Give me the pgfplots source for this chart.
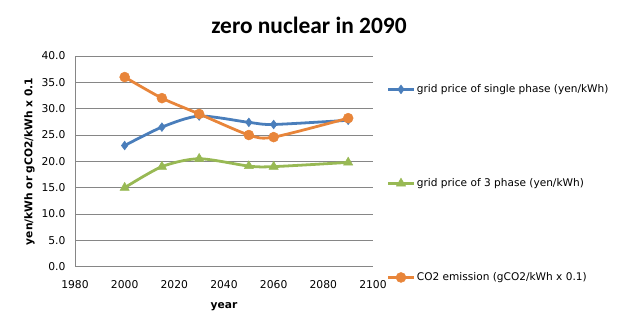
\documentclass[border=0pt]{standalone}
\usepackage{pgfplots}
\pgfplotsset{compat=1.18}
\usepackage{fontspec}
\setmainfont{DejaVu Sans}
\newfontfamily\titlefont{Carlito}
\definecolor{sblue}{HTML}{4A7EBB}
\definecolor{sgreen}{HTML}{98B954}
\definecolor{sorange}{HTML}{E8853A}
\definecolor{gridc}{HTML}{868686}
\begin{document}
\begin{tikzpicture}
\useasboundingbox (0,0) rectangle (618bp,328bp);
\node[font=\titlefont\bfseries\fontsize{23.5}{26}\selectfont] at (309bp,303bp) {zero nuclear in 2090};
\begin{axis}[
  scale only axis,
  width=298bp, height=210.7bp,
  at={(75bp,61.3bp)}, anchor=south west,
  xmin=1980, xmax=2100, ymin=0, ymax=40,
  xtick={1980,2000,...,2100}, ytick={0,5,...,40},
  axis x line*=bottom, axis y line*=left,
  x axis line style={draw=none},
  y axis line style={draw=gridc, -},
  tick style={draw=none},
  ymajorgrids, grid style={gridc, line width=0.7pt},
  /pgf/number format/.cd, fixed, fixed zerofill, precision=1, 1000 sep={}, assume math mode=true,
  /pgfplots/.cd,
  xticklabel={\pgfmathprintnumber[fixed,precision=0,1000 sep={}]{\tick}},
  tick label style={font=\fontsize{10.8}{12}\selectfont},
  xticklabel style={yshift=-10bp},
  yticklabel style={xshift=-6bp},
  xlabel={\bfseries year}, ylabel={\bfseries yen/kWh or gCO2/kWh x 0.1},
  label style={font=\fontsize{10.7}{12}\selectfont},
  xlabel style={yshift=-7bp},
  ylabel style={yshift=0bp},
  legend style={draw=none, fill=none, at={(1.045,0.872)}, anchor=north west, font=\fontsize{10.6}{12}\selectfont, row sep=81.5bp, inner sep=0pt,
    nodes={inner sep=1.5bp}, /tikz/every odd column/.append style={column sep=0bp}},
  legend cell align=left,
  legend image code/.code={\draw[#1, line width=2.8pt, mark repeat=2, mark phase=2] plot coordinates {(0bp,0bp) (13bp,0bp) (26bp,0bp)};},
]
\addplot[sblue, line width=2.8pt, smooth, tension=0.45, mark=diamond*, mark size=4.4pt, mark options={line width=0.5pt}] coordinates {(2000,23.0) (2015,26.5) (2030,28.6) (2050,27.4) (2060,27.0) (2090,27.8)};
\addlegendentry{grid price of single phase (yen/kWh)}
\addplot[sgreen, line width=2.8pt, smooth, tension=0.45, mark=triangle*, mark size=5.3pt, mark options={line width=0.5pt}] coordinates {(2000,15.0) (2015,19.0) (2030,20.5) (2050,19.1) (2060,19.0) (2090,19.8)};
\addlegendentry{grid price of 3 phase (yen/kWh)}
\addplot[sorange, line width=2.8pt, smooth, tension=0.45, mark=*, mark size=5pt, mark options={line width=0.5pt}] coordinates {(2000,36.0) (2015,32.0) (2030,29.0) (2050,25.0) (2060,24.6) (2090,28.2)};
\addlegendentry{CO2 emission (gCO2/kWh x 0.1)}
\end{axis}
\end{tikzpicture}
\end{document}
